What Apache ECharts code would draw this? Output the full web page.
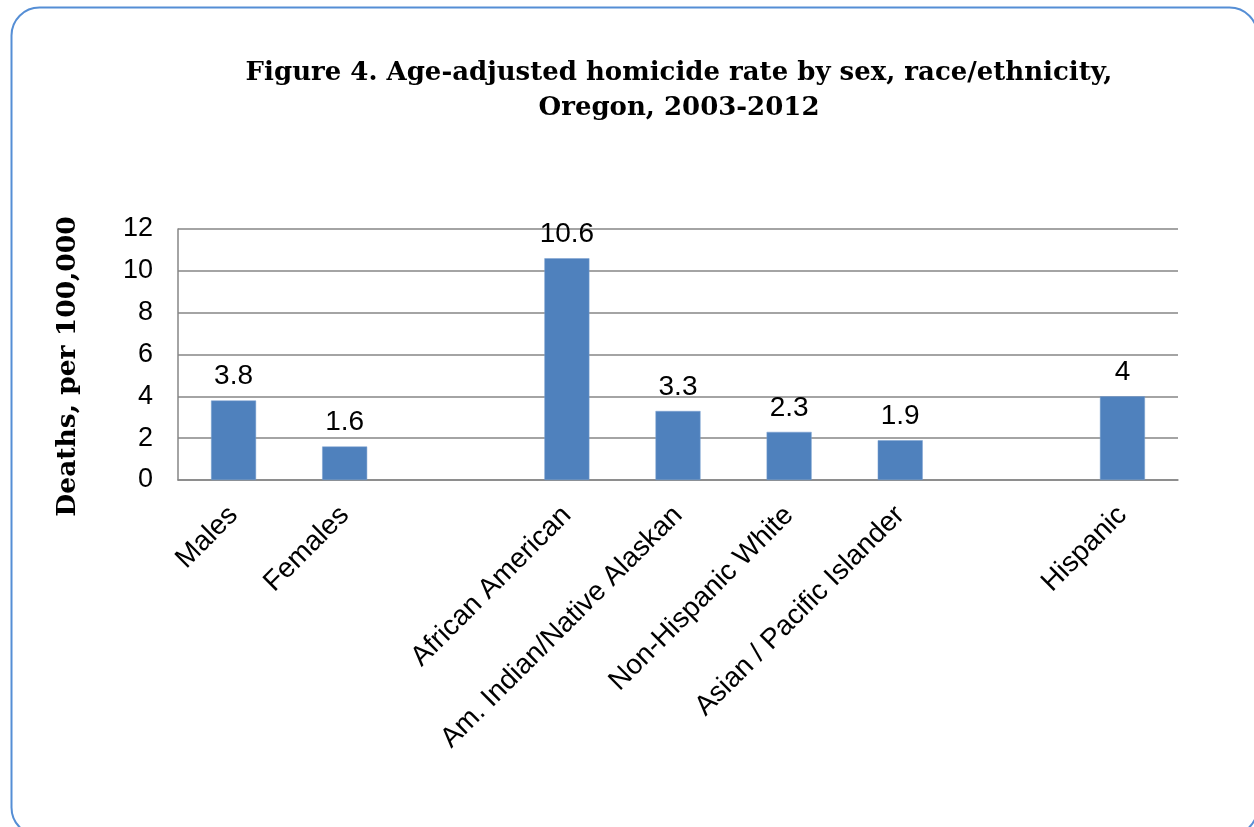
<!DOCTYPE html>
<html>
<head>
<meta charset="utf-8">
<script src="https://cdn.jsdelivr.net/npm/echarts@6/dist/echarts.min.js"></script>
<style>
html,body{margin:0;padding:0;background:#fff;}
#chart{width:1254px;height:827px;}
</style>
</head>
<body>
<div id="chart"></div>
<script>
const categories = ["Males", "Females", "", "African American", "Am. Indian/Native Alaskan", "Non-Hispanic White", "Asian / Pacific Islander", "", "Hispanic"];
const rates = [3.8, 1.6, null, 10.6, 3.3, 2.3, 1.9, null, 4];
const yTicks = [0, 2, 4, 6, 8, 10, 12];
const titleLines = ["Figure 4. Age-adjusted homicide rate by sex, race/ethnicity,", "Oregon, 2003-2012"];
const yAxisTitle = "Deaths, per 100,000";

const chart = echarts.init(document.getElementById('chart'));
chart.setOption({
  animation: false,
  backgroundColor: '#fff',
  graphic: [{
    type: 'rect',
    shape: {x: 11.5, y: 7.5, width: 1246, height: 828, r: 28},
    style: {fill: 'none', stroke: '#558ed5', lineWidth: 2},
    z: -1
  }],
  title: {
    text: titleLines.join('\n'),
    left: 674,
    textAlign: 'center',
    top: 51,
    textStyle: {
      fontFamily: 'DejaVu Serif',
      fontWeight: 'bold',
      fontSize: 26,
      lineHeight: 35,
      color: '#000'
    }
  },
  grid: {left: 178, right: 76, top: 229, bottom: 347, containLabel: false},
  xAxis: {
    type: 'category',
    data: categories,
    axisLine: {show: true, lineStyle: {color: '#868686', width: 1.5}},
    axisTick: {show: false},
    axisLabel: {
      interval: 0,
      rotate: 45,
      margin: 31,
      fontFamily: 'Liberation Sans',
      fontSize: 28,
      color: '#000'
    }
  },
  yAxis: {
    type: 'value',
    min: 0,
    max: 12,
    interval: 2,
    name: yAxisTitle,
    nameLocation: 'middle',
    nameGap: 96,
    nameRotate: 90,
    nameTextStyle: {
      fontFamily: 'DejaVu Serif',
      fontWeight: 'bold',
      fontSize: 26.5,
      color: '#000',
      padding: [0, 24, 0, 0]
    },
    axisLine: {show: true, lineStyle: {color: '#868686', width: 1.5}},
    axisTick: {show: false},
    splitLine: {show: true, lineStyle: {color: '#868686', width: 1.5}},
    axisLabel: {
      fontFamily: 'Liberation Sans',
      fontSize: 27,
      color: '#000',
      margin: 25,
      formatter: function (v) { return yTicks.indexOf(v) >= 0 ? String(v) : ''; }
    }
  },
  series: [{
    type: 'bar',
    data: rates,
    barWidth: 45,
    itemStyle: {color: '#4f81bd', borderColor: '#7aa0d0', borderWidth: 0.5},
    label: {
      show: true,
      position: 'top',
      distance: 10,
      fontFamily: 'Liberation Sans',
      fontSize: 28,
      color: '#000'
    }
  }]
});
</script>
</body>
</html>
